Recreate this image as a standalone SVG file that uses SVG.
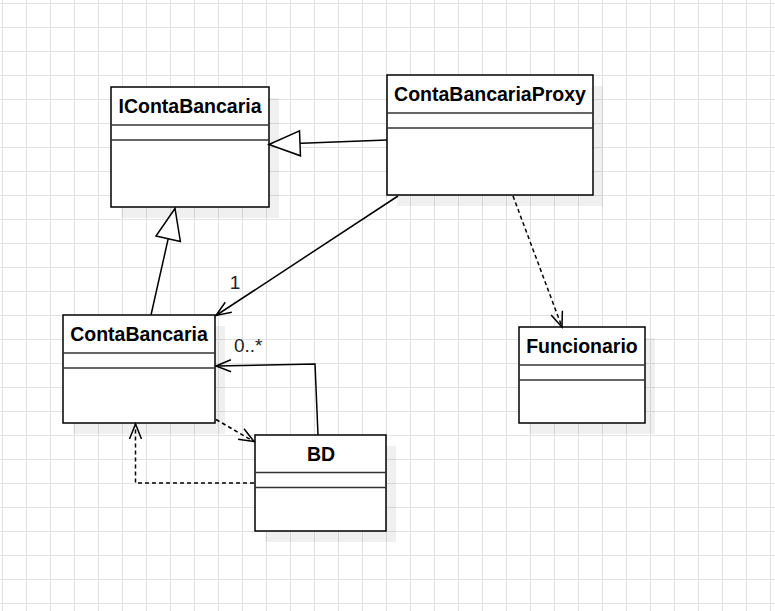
<svg xmlns="http://www.w3.org/2000/svg" width="775" height="611" viewBox="0 0 775 611">
<style>
.box{fill:#fff;stroke:#000;stroke-width:1.5}
.shadow{fill:#000;fill-opacity:0.06}
.div{stroke:#333;stroke-width:1.5}
.title{font-family:"Liberation Sans",Arial,Helvetica,sans-serif;font-weight:bold;font-size:19.5px;fill:#000;text-anchor:middle}
.lbl{font-family:"Liberation Sans",Arial,Helvetica,sans-serif;font-size:19px;fill:#222}
.edge{fill:none;stroke:#000;stroke-width:1.5}
.dash{stroke-dasharray:4 3}
</style>
<defs>
<pattern id="grid" x="0" y="0" width="24" height="24" patternUnits="userSpaceOnUse">
<path d="M2.5,0 V24 M0,3.5 H24" fill="none" stroke="#e2e2e2" stroke-width="1"/>
</pattern>
<marker id="tri" viewBox="-35 -16 40 32" refX="0" refY="0" markerWidth="40" markerHeight="32" markerUnits="userSpaceOnUse" orient="auto" overflow="visible">
<path d="M0,0 L-31,-12.5 L-31,12.5 Z" fill="#fff" stroke="#000" stroke-width="1.5" stroke-dasharray="none"/>
</marker>
<marker id="open" viewBox="-20 -10 24 20" refX="0" refY="0" markerWidth="24" markerHeight="20" markerUnits="userSpaceOnUse" orient="auto" overflow="visible">
<path d="M-15,-6 L0,0 L-15,6" fill="none" stroke="#000" stroke-width="1.5" stroke-dasharray="none"/>
</marker>
</defs>
<rect width="775" height="611" fill="#fff"/>
<rect width="775" height="611" fill="url(#grid)"/>

<g id="IContaBancaria">
<rect class="shadow" x="121" y="98" width="158" height="120"/>
<rect class="box" x="111" y="87" width="158" height="120"/>
<line class="div" x1="111" y1="125" x2="269" y2="125"/>
<line class="div" x1="111" y1="140" x2="269" y2="140"/>
<text class="title" x="190" y="113">IContaBancaria</text>
</g>

<g id="ContaBancariaProxy">
<rect class="shadow" x="397" y="86" width="206" height="120"/>
<rect class="box" x="387" y="75" width="206" height="120"/>
<line class="div" x1="387" y1="113" x2="593" y2="113"/>
<line class="div" x1="387" y1="128" x2="593" y2="128"/>
<text class="title" x="490" y="101">ContaBancariaProxy</text>
</g>

<g id="ContaBancaria">
<rect class="shadow" x="73" y="326" width="152" height="108"/>
<rect class="box" x="63" y="315" width="152" height="108"/>
<line class="div" x1="63" y1="353" x2="215" y2="353"/>
<line class="div" x1="63" y1="368" x2="215" y2="368"/>
<text class="title" x="139" y="341">ContaBancaria</text>
</g>

<g id="BD">
<rect class="shadow" x="265" y="446" width="131" height="96"/>
<rect class="box" x="255" y="435" width="131" height="96"/>
<line class="div" x1="255" y1="472.5" x2="386" y2="472.5"/>
<line class="div" x1="255" y1="487.5" x2="386" y2="487.5"/>
<text class="title" x="321" y="461">BD</text>
</g>

<g id="Funcionario">
<rect class="shadow" x="529" y="338" width="126" height="96"/>
<rect class="box" x="519" y="327" width="126" height="96"/>
<line class="div" x1="519" y1="365" x2="645" y2="365"/>
<line class="div" x1="519" y1="380" x2="645" y2="380"/>
<text class="title" x="582" y="353">Funcionario</text>
</g>

<g id="connectors">
<path class="edge" d="M387,140 L269,144.5" marker-end="url(#tri)"/>
<path class="edge" d="M151,315 L175,208.5" marker-end="url(#tri)"/>
<path class="edge" d="M398,196 L216,315.5" marker-end="url(#open)"/>
<text class="lbl" x="235" y="289" text-anchor="middle">1</text>
<path class="edge dash" d="M513,196 L562,327" marker-end="url(#open)"/>
<path class="edge" d="M318,435 L315,364 L216,366" marker-end="url(#open)"/>
<text class="lbl" x="234" y="352" font-size="17.5">0..*</text>
<path class="edge dash" d="M216,419.5 L254,441.5" marker-end="url(#open)"/>
<path class="edge dash" d="M254,483 L135.5,483 L135.5,424" marker-end="url(#open)"/>
</g>
</svg>
